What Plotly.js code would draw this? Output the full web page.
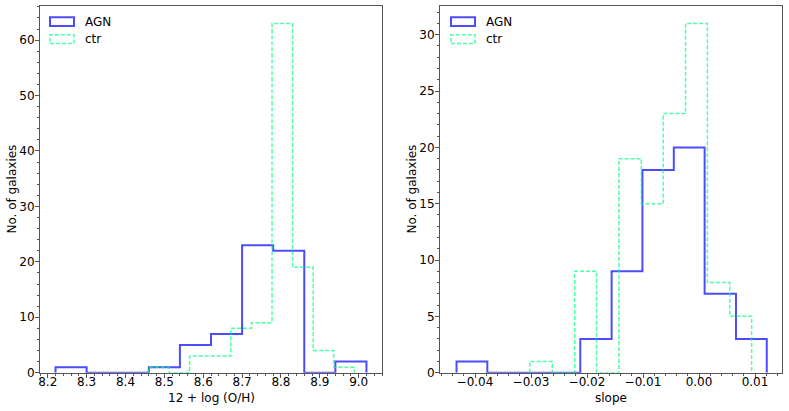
<!DOCTYPE html>
<html>
<head>
<meta charset="utf-8">
<script src="https://cdn.plot.ly/plotly-3.0.1.min.js"></script>
<style>html,body{margin:0;padding:0;background:#fff;} #plot{width:789px;height:411px;}</style>
</head>
<body>
<div id="plot"></div>
<script>
// metallicity histograms (left panel)
let ohAgnEdges=[8.22,8.30,8.38,8.46,8.54,8.62,8.70,8.78,8.86,8.94,9.02];
let ohAgnCounts=[1,0,0,1,5,7,23,22,0,2];
let ohCtrEdges=[8.459,8.512,8.565,8.618,8.671,8.724,8.777,8.830,8.883,8.936,8.989];
let ohCtrCounts=[1,0,3,3,8,9,63,19,4,1];

// slope histograms (right panel)
let slAgnEdges=[-0.0433,-0.0378,-0.0322,-0.0267,-0.0212,-0.0156,-0.0101,-0.0045,0.0010,0.0066,0.0121];
let slAgnCounts=[1,0,0,0,3,9,18,20,7,3];
let slCtrEdges=[-0.0302,-0.0262,-0.0222,-0.0183,-0.0143,-0.0103,-0.0064,-0.0024,0.0015,0.0055,0.0094];
let slCtrCounts=[1,0,9,0,19,15,23,31,8,5];

let names=['AGN','ctr'];
let xTitles=['12 + log (O/H)','slope'];
let yTitle='No. of galaxies';

const blue='rgba(0,0,255,0.7)', green='rgba(0,255,127,0.7)';
const dashPat='4px,2px';

function stepTrace(edges,counts,name,color,dash,xa,ya){
  let x=[edges[0]], y=[0];
  counts.forEach((c,i)=>{x.push(edges[i]); y.push(c);});
  x.push(edges[edges.length-1]); y.push(0);
  return {x:x,y:y,name:name,type:'scatter',mode:'lines',line:{shape:'hv',color:color,width:dash?1.5:2,dash:dash?dashPat:'solid'},
    xaxis:xa,yaxis:ya,showlegend:false,hoverinfo:'skip'};
}

let data=[
  stepTrace(ohAgnEdges,ohAgnCounts,names[0],blue,false,'x','y'),
  stepTrace(ohCtrEdges,ohCtrCounts,names[1],green,true,'x','y'),
  stepTrace(slAgnEdges,slAgnCounts,names[0],blue,false,'x2','y2'),
  stepTrace(slCtrEdges,slCtrCounts,names[1],green,true,'x2','y2')
];

const fnt={family:'DejaVu Sans',size:12,color:'#000'};
function ax(extra){
  return Object.assign({showgrid:false,zeroline:false,showline:true,mirror:true,linecolor:'#555',linewidth:1,
    ticks:'outside',ticklen:4,tickcolor:'#555',tickfont:fnt},extra);
}
const W=789,H=411;
function px(x){return x/W;} function py(y){return 1-y/H;}

// matplotlib-style legend boxes and axis titles, placed in figure pixels
let shapes=[], annotations=[];
function legendBox(x0){
  [[blue,'solid',2],[green,dashPat,1.5]].forEach((s,i)=>{
    let top=17.3+i*17.4;
    shapes.push({type:'rect',xref:'paper',yref:'paper',x0:px(x0),x1:px(x0+24),y0:py(top+8.7),y1:py(top),
      line:{color:s[0],width:s[2],dash:s[1]},fillcolor:'rgba(0,0,0,0)'});
    annotations.push({xref:'paper',yref:'paper',x:px(x0+33),y:py(top+4.5),xanchor:'left',yanchor:'middle',
      text:names[i],showarrow:false,font:fnt});
  });
}
legendBox(50); legendBox(451);
[[211,11],[611,411]].forEach((p,i)=>{
  annotations.push({xref:'paper',yref:'paper',x:px(p[0]),y:py(398),xanchor:'center',yanchor:'middle',text:xTitles[i],showarrow:false,font:fnt});
  annotations.push({xref:'paper',yref:'paper',x:px(p[1]),y:py(189.5),xanchor:'center',yanchor:'middle',text:yTitle,textangle:-90,showarrow:false,font:fnt});
});

let yd=[py(372.7),py(6)];
let layout={
  width:W,height:H,margin:{l:0,r:0,t:0,b:0},paper_bgcolor:'#fff',plot_bgcolor:'#fff',font:fnt,
  xaxis:ax({domain:[px(40),px(382)],range:[8.18,9.06],dtick:0.1,tick0:8.2,tickformat:'.1f',anchor:'y',ticklabelstandoff:-6,
    minor:{dtick:0.02,ticklen:2,tickcolor:'#555'}}),
  yaxis:ax({domain:yd,range:[0,66.15],dtick:10,anchor:'x',ticklabelstandoff:-2,
    minor:{dtick:2,ticklen:2,tickcolor:'#555'}}),
  xaxis2:ax({domain:[px(440),px(782)],range:[-0.04625,0.01482],dtick:0.01,tick0:0,tickformat:'.2f',anchor:'y2',ticklabelstandoff:-6,
    minor:{dtick:0.002,ticklen:2,tickcolor:'#555'}}),
  yaxis2:ax({domain:yd,range:[0,32.55],dtick:5,anchor:'x2',ticklabelstandoff:-2,
    minor:{dtick:1,ticklen:2,tickcolor:'#555'}}),
  shapes:shapes,annotations:annotations,showlegend:false
};
Plotly.newPlot('plot',data,layout,{staticPlot:true});
</script>
</body>
</html>
